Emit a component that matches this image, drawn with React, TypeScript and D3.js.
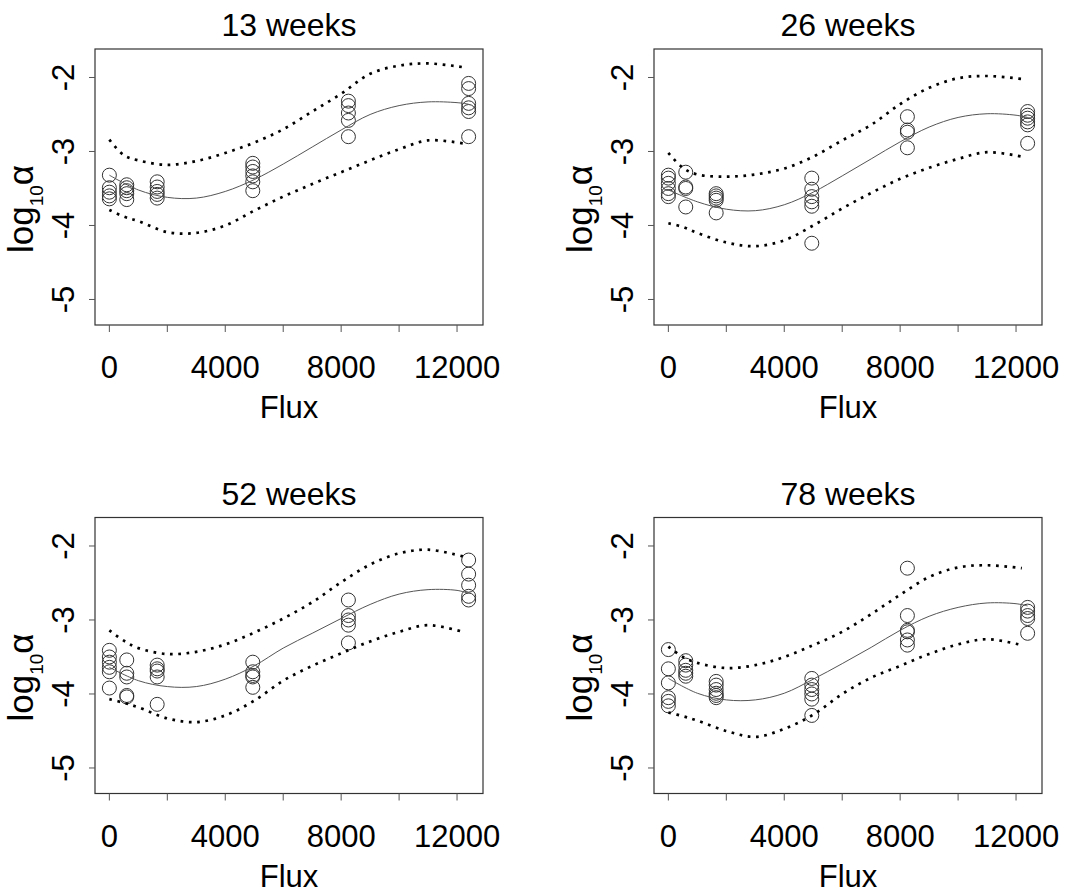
import React from "react";
import * as d3 from "d3";

// ---------- data ----------
const panelTitles = ["13 weeks", "26 weeks", "52 weeks", "78 weeks"];
const fluxLevels = [0, 600, 1650, 4950, 8250, 12400];
const xTickValues = [0, 2000, 4000, 6000, 8000, 10000, 12000];
const xTickLabels = [0, 4000, 8000, 12000];
const yTickValues = [-2, -3, -4, -5];

// observed log10(alpha), one inner list per flux level
const obs13 = [
  [-3.32, -3.49, -3.55, -3.60, -3.64],
  [-3.45, -3.49, -3.53, -3.57, -3.65],
  [-3.41, -3.48, -3.54, -3.58, -3.63],
  [-3.16, -3.21, -3.27, -3.33, -3.41, -3.53],
  [-2.32, -2.38, -2.48, -2.58, -2.80],
  [-2.08, -2.15, -2.35, -2.41, -2.46, -2.80],
];
const obs26 = [
  [-3.32, -3.36, -3.43, -3.50, -3.57, -3.61],
  [-3.28, -3.48, -3.50, -3.75],
  [-3.57, -3.60, -3.63, -3.66, -3.83],
  [-3.36, -3.51, -3.61, -3.68, -3.74, -4.24],
  [-2.53, -2.71, -2.74, -2.95],
  [-2.46, -2.51, -2.55, -2.60, -2.64, -2.89],
];
const obs52 = [
  [-3.41, -3.50, -3.57, -3.64, -3.70, -3.92],
  [-3.54, -3.72, -3.77, -4.02, -4.04],
  [-3.61, -3.66, -3.69, -3.77, -4.14],
  [-3.57, -3.70, -3.75, -3.77, -3.91],
  [-2.73, -2.94, -3.00, -3.07, -3.31],
  [-2.19, -2.38, -2.53, -2.68, -2.73],
];
const obs78 = [
  [-3.40, -3.66, -3.85, -4.05, -4.10, -4.16],
  [-3.55, -3.61, -3.68, -3.72, -3.76],
  [-3.83, -3.88, -3.94, -3.99, -4.02, -4.05],
  [-3.79, -3.88, -3.94, -4.00, -4.07, -4.29],
  [-2.30, -2.94, -3.14, -3.16, -3.27, -3.34],
  [-2.83, -2.88, -2.94, -2.98, -3.18],
];

// fitted curve, read at these flux values
const fitFlux = [0, 1000, 2000, 3000, 4000, 5000, 6000, 7000, 8000, 9000, 10000, 11000, 12000, 12400];
const fit13 = [-3.32, -3.52, -3.62, -3.63, -3.54, -3.38, -3.17, -2.94, -2.71, -2.50, -2.38, -2.33, -2.34, -2.36];
const fit26 = [-3.52, -3.68, -3.78, -3.80, -3.72, -3.55, -3.33, -3.10, -2.87, -2.67, -2.54, -2.49, -2.51, -2.54];
const fit52 = [-3.64, -3.82, -3.90, -3.90, -3.80, -3.62, -3.38, -3.18, -2.98, -2.79, -2.65, -2.59, -2.60, -2.64];
const fit78 = [-3.79, -3.99, -4.08, -4.08, -3.99, -3.80, -3.59, -3.37, -3.14, -2.95, -2.83, -2.77, -2.78, -2.81];

// prediction bands, read at these flux values
const bandFlux = [0, 500, 1000, 2000, 3000, 4000, 5000, 6000, 7000, 8000, 9000, 10000, 11000, 12200];
const upper13 = [-2.84, -3.05, -3.12, -3.18, -3.13, -3.02, -2.88, -2.70, -2.46, -2.22, -1.95, -1.84, -1.81, -1.86];
const lower13 = [-3.79, -3.88, -3.94, -4.09, -4.10, -4.00, -3.80, -3.61, -3.44, -3.28, -3.12, -2.97, -2.85, -2.89];
const upper26 = [-3.02, -3.22, -3.31, -3.34, -3.31, -3.23, -3.07, -2.85, -2.64, -2.36, -2.14, -2.01, -1.98, -2.02];
const lower26 = [-3.97, -4.02, -4.10, -4.23, -4.28, -4.20, -4.00, -3.77, -3.56, -3.37, -3.22, -3.10, -3.01, -3.07];
const upper52 = [-3.14, -3.28, -3.38, -3.46, -3.43, -3.33, -3.17, -2.98, -2.76, -2.49, -2.25, -2.10, -2.05, -2.14];
const lower52 = [-4.07, -4.12, -4.18, -4.33, -4.38, -4.29, -4.09, -3.82, -3.62, -3.45, -3.29, -3.16, -3.07, -3.16];
const upper78 = [-3.36, -3.50, -3.58, -3.65, -3.61, -3.50, -3.34, -3.16, -2.92, -2.66, -2.42, -2.29, -2.26, -2.30];
const lower78 = [-4.25, -4.30, -4.36, -4.50, -4.58, -4.47, -4.28, -4.00, -3.78, -3.62, -3.46, -3.33, -3.26, -3.34];

const observed = [obs13, obs26, obs52, obs78];
const fits = [fit13, fit26, fit52, fit78];
const uppers = [upper13, upper26, upper52, upper78];
const lowers = [lower13, lower26, lower52, lower78];

// ---------- layout ----------
const W = 1066;
const H = 893;
const boxW = 388;
const boxH = 276;
const lefts = [95, 654, 95, 654];
const tops = [49, 49, 517.5, 517.5];
const FONT = "'Liberation Sans', Arial, Helvetica, sans-serif";

function Panel({ i }: { i: number }) {
  const left = lefts[i];
  const top = tops[i];
  const x = d3.scaleLinear().domain([-496, 12896]).range([left, left + boxW]);
  const y = d3.scaleLinear().domain([-5.345, -1.615]).range([top + boxH, top]);

  const line = d3
    .line<[number, number]>()
    .x((d) => x(d[0]))
    .y((d) => y(d[1]))
    .curve(d3.curveCatmullRom.alpha(0.5));

  const fitPts = fitFlux.map((f, k) => [f, fits[i][k]] as [number, number]);
  const upPts = bandFlux.map((f, k) => [f, uppers[i][k]] as [number, number]);
  const loPts = bandFlux.map((f, k) => [f, lowers[i][k]] as [number, number]);

  const bottom = top + boxH;
  const cx = left + boxW / 2;

  return (
    <g>
      <text x={cx} y={top - 13} textAnchor="middle" fontSize={32} fontFamily={FONT} fill="#000">
        {panelTitles[i]}
      </text>
      {/* points */}
      {observed[i].map((grp, gi) =>
        grp.map((v, k) => (
          <circle
            key={`p${gi}-${k}`}
            cx={x(fluxLevels[gi])}
            cy={y(v)}
            r={7}
            fill="none"
            stroke="#333"
            strokeWidth={1}
          />
        ))
      )}
      {/* fit */}
      <path d={line(fitPts) || ""} fill="none" stroke="#555" strokeWidth={1} />
      {/* bands */}
      <path d={line(upPts) || ""} fill="none" stroke="#000" strokeWidth={2.7} strokeDasharray="2.7 5.6" />
      <path d={line(loPts) || ""} fill="none" stroke="#000" strokeWidth={2.7} strokeDasharray="2.7 5.6" />
      {/* box */}
      <rect x={left} y={top} width={boxW} height={boxH} fill="none" stroke="#333" strokeWidth={1.2} />
      {/* x axis */}
      {xTickValues.map((t) => (
        <line key={`xt${t}`} x1={x(t)} x2={x(t)} y1={bottom} y2={bottom + 7} stroke="#555" strokeWidth={1} />
      ))}
      {xTickLabels.map((t) => (
        <text key={`xl${t}`} x={x(t)} y={bottom + 53} textAnchor="middle" fontSize={31} fontFamily={FONT} fill="#000">
          {t}
        </text>
      ))}
      <text x={cx} y={bottom + 93} textAnchor="middle" fontSize={31} fontFamily={FONT} fill="#000">
        Flux
      </text>
      {/* y axis */}
      {yTickValues.map((t) => (
        <line key={`yt${t}`} x1={left - 6} x2={left} y1={y(t)} y2={y(t)} stroke="#555" strokeWidth={1} />
      ))}
      {yTickValues.map((t) => (
        <text
          key={`yl${t}`}
          transform={`translate(${left - 21},${y(t)}) rotate(-90)`}
          textAnchor="middle"
          fontSize={31}
          fontFamily={FONT}
          fill="#000"
        >
          {t}
        </text>
      ))}
      <text
        transform={`translate(${left - 62},${top + 204}) rotate(-90)`}
        textAnchor="start"
        fontSize={35}
        fontFamily={FONT}
        fill="#000"
      >
        log
        <tspan fontSize={19} dy={10}>10</tspan>
        <tspan dy={-10}>α</tspan>
      </text>
    </g>
  );
}

export default function App() {
  return (
    <div style={{ position: "absolute", left: 0, top: 0 }}>
      <svg width={W} height={H} style={{ display: "block", background: "#fff" }}>
        <rect x={0} y={0} width={W} height={H} fill="#fff" />
        {[0, 1, 2, 3].map((i) => (
          <Panel key={i} i={i} />
        ))}
      </svg>
    </div>
  );
}
